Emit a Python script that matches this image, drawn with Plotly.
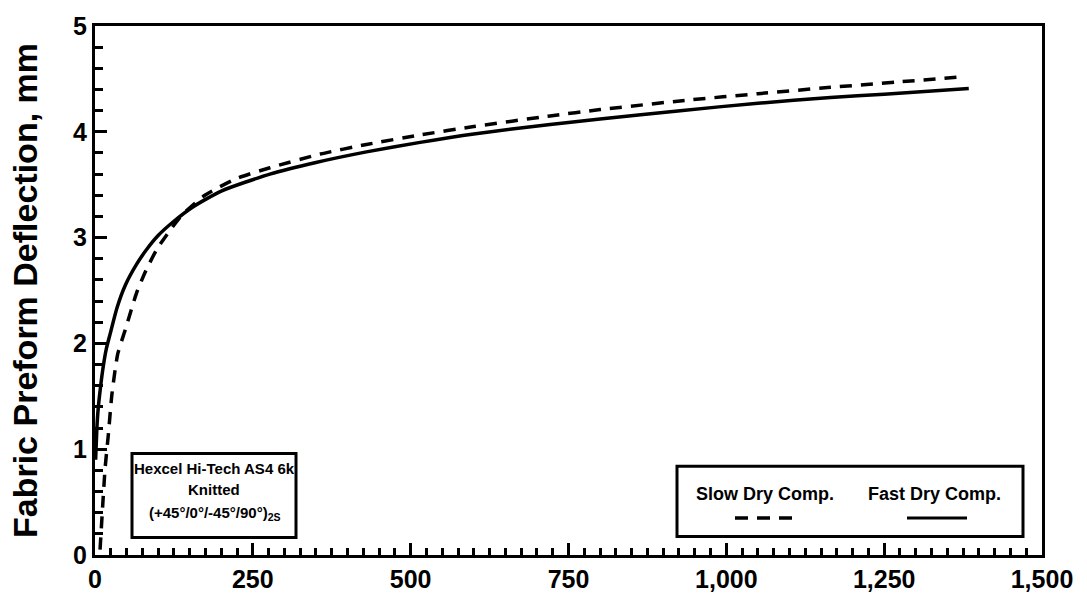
import plotly.graph_objects as go

# Data
fast_x = [1, 3, 5, 9, 13, 18, 24, 35, 48, 65, 82, 100, 124, 155, 200, 277, 350, 430, 515, 600, 721, 800, 927, 1050, 1165, 1250, 1384]
fast_y = [0.9, 1.2, 1.38, 1.6, 1.78, 1.95, 2.09, 2.34, 2.55, 2.74, 2.89, 3.02, 3.15, 3.29, 3.44, 3.60, 3.71, 3.81, 3.90, 3.98, 4.07, 4.12, 4.20, 4.27, 4.325, 4.355, 4.41]

slow_x = [8, 12, 16, 21, 27, 36, 48, 66, 80, 98, 119, 139, 174, 225, 277, 357, 430, 515, 600, 721, 800, 940, 1050, 1165, 1270, 1375]
slow_y = [0.05, 0.45, 0.82, 1.13, 1.53, 1.90, 2.13, 2.48, 2.68, 2.89, 3.07, 3.22, 3.40, 3.56, 3.66, 3.79, 3.88, 3.97, 4.05, 4.15, 4.21, 4.30, 4.36, 4.42, 4.47, 4.52]

x_ticks = [0, 250, 500, 750, 1000, 1250, 1500]
y_ticks = [0, 1, 2, 3, 4, 5]
x_minor_step = 25
y_minor_step = 0.2

series_names = ["Slow Dry Comp.", "Fast Dry Comp."]
box_lines = ["Hexcel Hi-Tech AS4 6k", "Knitted", "(+45°/0°/-45°/90°)<sub>2S</sub>"]

TICKFONT = dict(family="Liberation Sans, Arial", size=25, color="black", weight="bold")
BOXFONT = dict(family="Liberation Sans, Arial", size=15, color="black", weight="bold")
LEGFONT = dict(family="Liberation Sans, Arial", size=18, color="black", weight="bold")

fig = go.Figure()
fig.add_trace(go.Scatter(x=slow_x, y=slow_y, mode="lines", name=series_names[0],
                         line=dict(color="black", width=3.5, dash="12px,9px", shape="spline", smoothing=0.6),
                         showlegend=False))
fig.add_trace(go.Scatter(x=fast_x, y=fast_y, mode="lines", name=series_names[1],
                         line=dict(color="black", width=3.5, shape="spline", smoothing=0.6),
                         showlegend=False))

W, H = 1087, 605
L, R, T, B = 95, 45, 14, 49
pw, ph = W - L - R, H - T - B

def px(xp):
    return (xp - L) / pw

def py(yp):
    return (H - B - yp) / ph

shapes = []
annotations = []

# info box
shapes.append(dict(type="rect", xref="paper", yref="paper",
                   x0=px(132), x1=px(296), y0=py(538), y1=py(452),
                   line=dict(color="black", width=3), fillcolor="white", layer="above"))
for txt, yy in zip(box_lines, [467, 489, 513]):
    annotations.append(dict(x=px(214), y=py(yy), xref="paper", yref="paper", text=txt,
                            showarrow=False, font=BOXFONT, xanchor="center", yanchor="middle"))

# legend box
shapes.append(dict(type="rect", xref="paper", yref="paper",
                   x0=px(677), x1=px(1023), y0=py(537), y1=py(465),
                   line=dict(color="black", width=3), fillcolor="white", layer="above"))
annotations.append(dict(x=px(765), y=py(493), xref="paper", yref="paper", text=series_names[0],
                        showarrow=False, font=LEGFONT, xanchor="center", yanchor="middle"))
annotations.append(dict(x=px(934), y=py(493), xref="paper", yref="paper", text=series_names[1],
                        showarrow=False, font=LEGFONT, xanchor="center", yanchor="middle"))
shapes.append(dict(type="line", xref="paper", yref="paper", x0=px(735), x1=px(800), y0=py(518), y1=py(518),
                   line=dict(color="black", width=3.5, dash="13px,9px"), layer="above"))
shapes.append(dict(type="line", xref="paper", yref="paper", x0=px(907), x1=px(967), y0=py(518), y1=py(518),
                   line=dict(color="black", width=3), layer="above"))

fig.update_layout(
    width=W, height=H,
    margin=dict(l=L, r=R, t=T, b=B, pad=0),
    paper_bgcolor="white", plot_bgcolor="white",
    shapes=shapes, annotations=annotations,
    xaxis=dict(range=[x_ticks[0], x_ticks[-1]], tickmode="linear", tick0=x_ticks[0],
               dtick=x_ticks[1] - x_ticks[0], tickformat=",d",
               ticks="inside", ticklen=12, tickwidth=3, tickcolor="black",
               minor=dict(ticks="inside", ticklen=7, tickwidth=2.5, tickcolor="black",
                          tick0=x_ticks[0], dtick=x_minor_step, showgrid=False),
               showline=True, linewidth=3, linecolor="black", mirror=True,
               showgrid=False, zeroline=False, tickfont=TICKFONT),
    yaxis=dict(range=[y_ticks[0], y_ticks[-1]], tickmode="linear", tick0=y_ticks[0],
               dtick=y_ticks[1] - y_ticks[0],
               ticks="inside", ticklen=12, tickwidth=3, tickcolor="black",
               minor=dict(ticks="inside", ticklen=8, tickwidth=2.5, tickcolor="black",
                          tick0=y_ticks[0], dtick=y_minor_step, showgrid=False),
               showline=True, linewidth=3, linecolor="black", mirror=True,
               showgrid=False, zeroline=False, tickfont=TICKFONT,
               title=dict(text="Fabric Preform Deflection, mm", standoff=26,
                          font=dict(family="Liberation Sans, Arial", size=34, color="black", weight="bold"))),
)

fig.write_html("out.html")
